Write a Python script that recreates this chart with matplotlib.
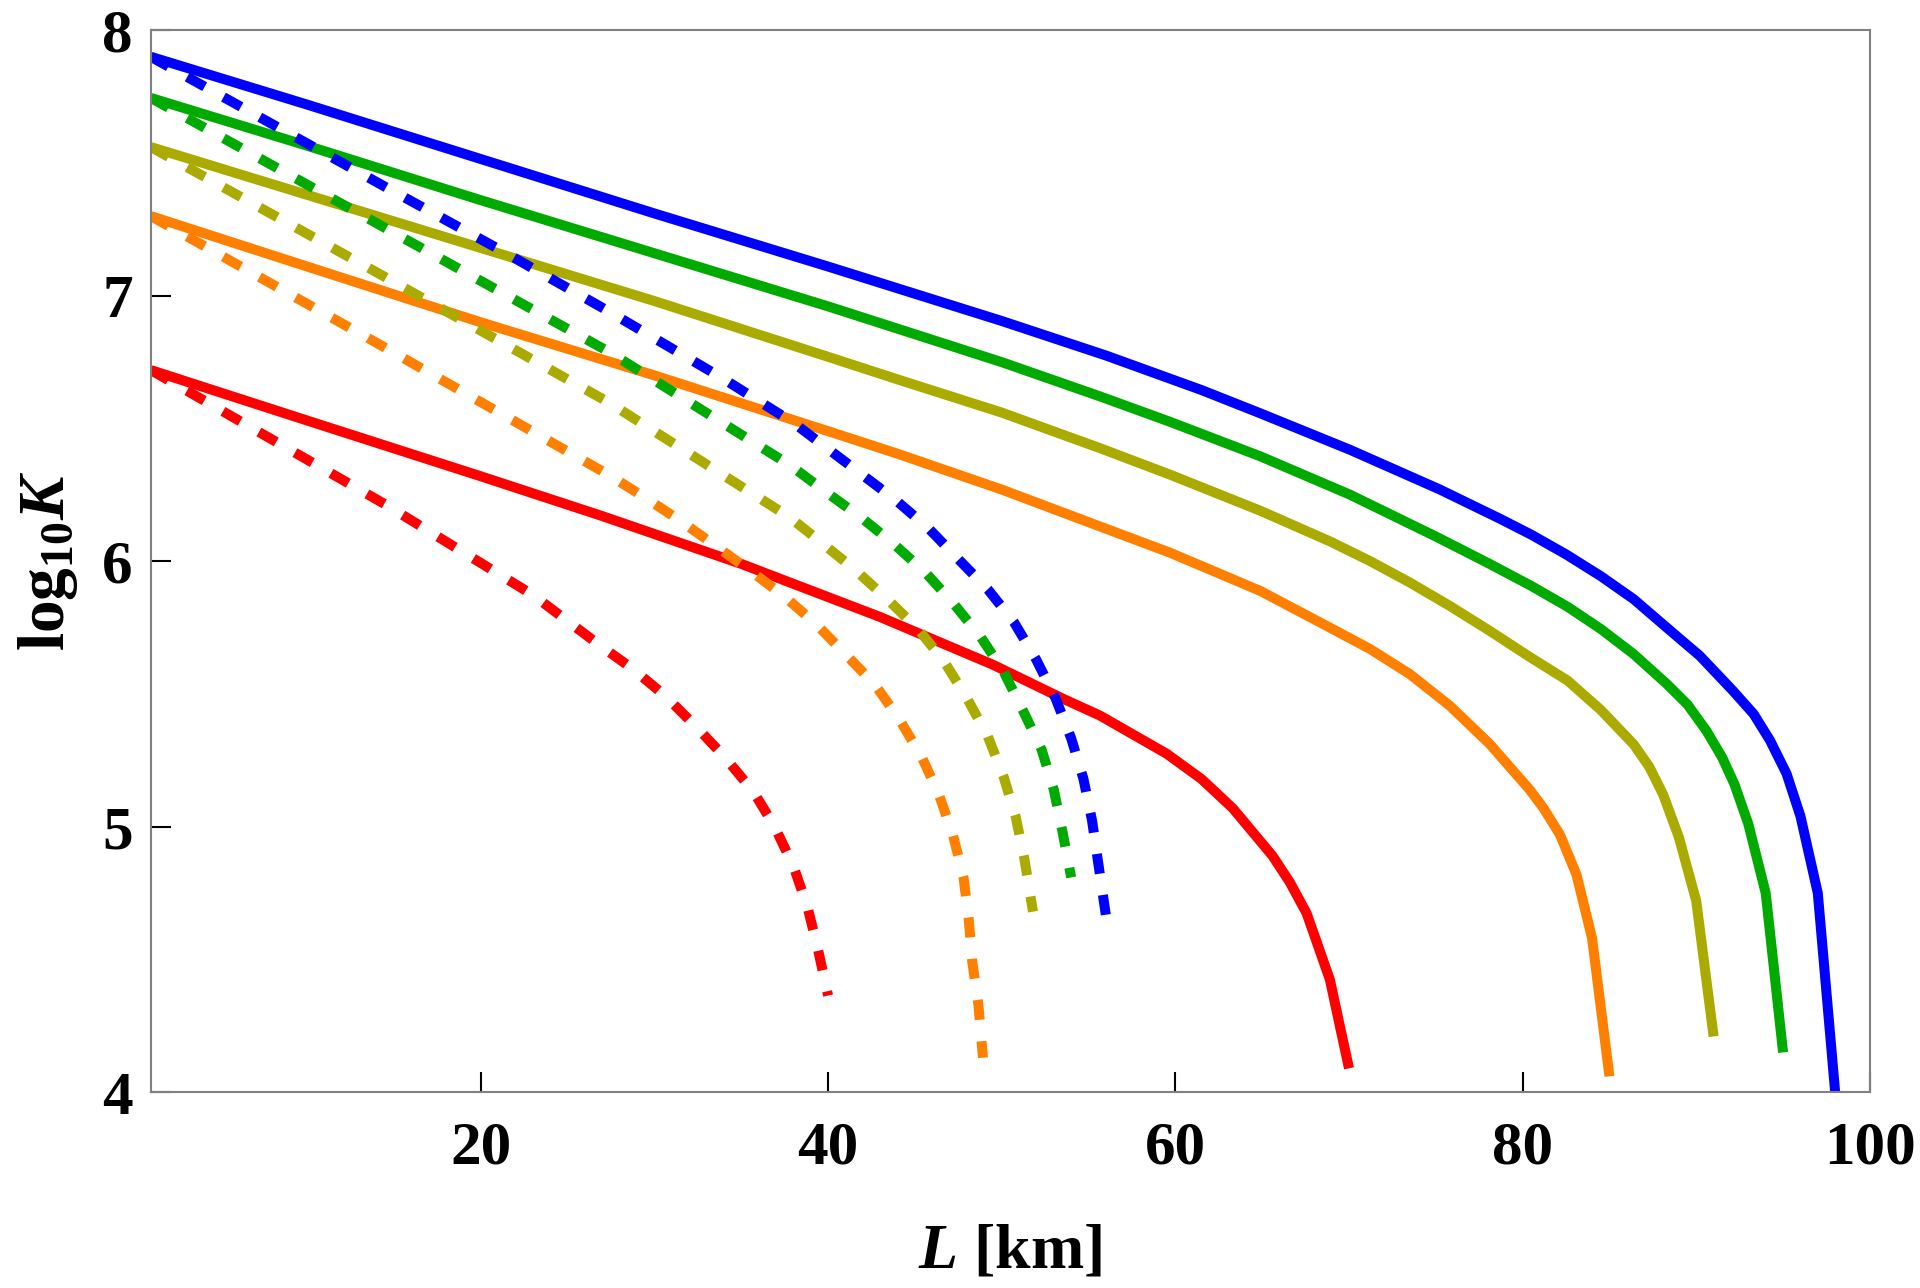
import matplotlib
matplotlib.use("Agg")
import matplotlib.pyplot as plt

"""DATA (read off the reference)"""
colors = ["#0000ff", "#00aa00", "#aaaa00", "#ff8000", "#ff0000"]

# solid curves
blue_L = [1, 10, 20, 30, 40, 50, 56, 61.5, 64.9, 70.05, 75.24, 78.7, 80.5, 82.5, 84.5, 86.4, 88.3,
          90.2, 92.1, 93.3, 94.25, 95.2, 96, 97, 98]
blue_K = [7.90, 7.72, 7.515, 7.31, 7.11, 6.905, 6.775, 6.645, 6.557, 6.42, 6.27, 6.16, 6.10,
          6.026, 5.944, 5.857, 5.75, 5.644, 5.513, 5.425, 5.325, 5.20, 5.04, 4.75, 4.0]
green_L = [1, 10, 20, 30, 40, 50, 55.7, 59.7, 64.9, 70.05, 75.1, 78.1, 80.5, 82.6, 84.5, 86.4,
           88.3, 89.5, 90.6, 91.5, 92.2, 93, 94, 95]
green_K = [7.745, 7.565, 7.36, 7.16, 6.96, 6.75, 6.62, 6.525, 6.395, 6.251, 6.09, 5.99, 5.907,
           5.828, 5.745, 5.65, 5.538, 5.46, 5.36, 5.26, 5.16, 5.01, 4.75, 4.15]
olive_L = [1, 10, 20, 30, 40, 44, 50, 55.7, 59.7, 64.9, 68.9, 71.2, 73.5, 75.8, 78.1, 80.4, 82.6,
           84.5, 86.4, 87.3, 88.1, 89, 90, 91]
olive_K = [7.56, 7.38, 7.18, 6.98, 6.77, 6.685, 6.56, 6.425, 6.326, 6.19, 6.075, 6.001, 5.92,
           5.832, 5.738, 5.64, 5.55, 5.44, 5.31, 5.225, 5.12, 4.96, 4.72, 4.21]
orange_L = [1, 10, 20, 30, 40, 44, 50, 55.7, 59.7, 64.9, 68.9, 71.2, 73.5, 75.8, 78.1, 80.4,
            81.2, 82.15, 83.1, 84, 85]
orange_K = [7.30, 7.11, 6.90, 6.70, 6.49, 6.405, 6.27, 6.13, 6.032, 5.888, 5.75, 5.67, 5.575,
            5.456, 5.312, 5.14, 5.07, 4.97, 4.82, 4.58, 4.06]
red_L = [1, 10, 20, 27, 35, 43, 49.5, 53.6, 55.65, 59.5, 61.5, 63.3, 65.6, 66.6, 67.56, 68.9, 70]
red_K = [6.72, 6.53, 6.32, 6.17, 5.99, 5.79, 5.61, 5.48, 5.419, 5.275, 5.18, 5.07, 4.89, 4.79,
         4.674, 4.424, 4.09]

# dashed curves
blue_d_L = [1, 14.5, 21, 27.4, 33.9, 38, 43.9, 45.8, 47.5, 49.2, 50.7, 52, 53.1, 54, 54.7, 55.2,
            55.55, 56]
blue_d_K = [7.90, 7.41, 7.177, 6.94, 6.69, 6.522, 6.23, 6.123, 6.008, 5.894, 5.771, 5.628, 5.484,
            5.333, 5.182, 5.024, 4.867, 4.666]
green_d_L = [1, 14.5, 27.4, 37.85, 40, 41.9, 43.7, 45.6, 47.2, 48.8, 50.1, 51.2, 52.3, 53.0,
             53.5, 54.0]
green_d_K = [7.745, 7.255, 6.788, 6.36, 6.255, 6.165, 6.07, 5.958, 5.843, 5.714, 5.585, 5.441,
             5.29, 5.139, 4.981, 4.809]
olive_d_L = [1, 14.5, 27.4, 37.8, 39.7, 41.6, 43.4, 45.2, 46.7, 48.0, 49.2, 50.1, 50.8, 51.3, 51.8]
olive_d_K = [7.56, 7.07, 6.597, 6.165, 6.066, 5.965, 5.858, 5.743, 5.621, 5.484, 5.34, 5.19,
             5.039, 4.881, 4.68]
orange_d_L = [1, 14.5, 27.4, 29.5, 31.5, 33.5, 35.5, 37.4, 39.3, 41.0, 42.7, 44.1, 45.4, 46.4,
              47.2, 47.8, 48.1, 48.3, 48.66, 48.92]
orange_d_K = [7.30, 6.804, 6.324, 6.238, 6.152, 6.059, 5.965, 5.872, 5.764, 5.65, 5.535, 5.405,
              5.262, 5.118, 4.967, 4.809, 4.651, 4.493, 4.328, 4.13]
red_d_L = [1, 14.5, 23, 26.8, 28.8, 30.65, 32.4, 34.05, 35.7, 36.9, 38.0, 38.8, 39.4, 40.0]
red_d_K = [6.72, 6.214, 5.873, 5.686, 5.592, 5.491, 5.377, 5.262, 5.132, 5.003, 4.852, 4.701,
           4.543, 4.364]

x_ticks = [20, 40, 60, 80, 100]
y_ticks = [4, 5, 6, 7, 8]
"""END DATA"""

plt.rcParams['font.family'] = 'Liberation Serif'
plt.rcParams['font.weight'] = 'bold'
plt.rcParams['axes.labelweight'] = 'bold'
plt.rcParams['mathtext.fontset'] = 'custom'
plt.rcParams['mathtext.rm'] = 'Liberation Serif:bold'
plt.rcParams['mathtext.it'] = 'Liberation Serif:italic:bold'
plt.rcParams['mathtext.bf'] = 'Liberation Serif:bold'

fig = plt.figure(figsize=(19.2, 12.88), dpi=100)
ax = fig.add_axes([0.0786, 0.152, 0.8953, 0.8245])

solids = [(blue_L, blue_K), (green_L, green_K), (olive_L, olive_K),
          (orange_L, orange_K), (red_L, red_K)]
dashed = [(blue_d_L, blue_d_K), (green_d_L, green_d_K), (olive_d_L, olive_d_K),
          (orange_d_L, orange_d_K), (red_d_L, red_d_K)]

lw = 7.2
for (xs, ys), c in zip(solids, colors):
    ax.plot(xs, ys, color=c, lw=lw, solid_capstyle='butt', solid_joinstyle='round')
for (xs, ys), c in zip(dashed, colors):
    ax.plot(xs, ys, color=c, lw=lw, linestyle=(0, (2.0, 2.15)), dash_capstyle='butt')

ax.set_xlim(1, 100)
ax.set_ylim(4, 8)
ax.set_xticks(x_ticks)
ax.set_yticks(y_ticks)
ax.tick_params(direction='in', length=14.4, width=1.5, color='black', labelsize=44,
               top=False, right=False)
ax.tick_params(axis='x', pad=20)
ax.tick_params(axis='y', pad=13)
for sp in ax.spines.values():
    sp.set_color('#808080')
    sp.set_linewidth(1.5)

ax.set_xlabel(r'$\mathit{L}$ [km]', fontsize=46, fontweight='bold', labelpad=34)
ax.set_ylabel(r'$\mathrm{log}_{10}\mathit{K}$', fontsize=47, fontweight='bold', labelpad=16)

fig.savefig("out.png", dpi=100)
